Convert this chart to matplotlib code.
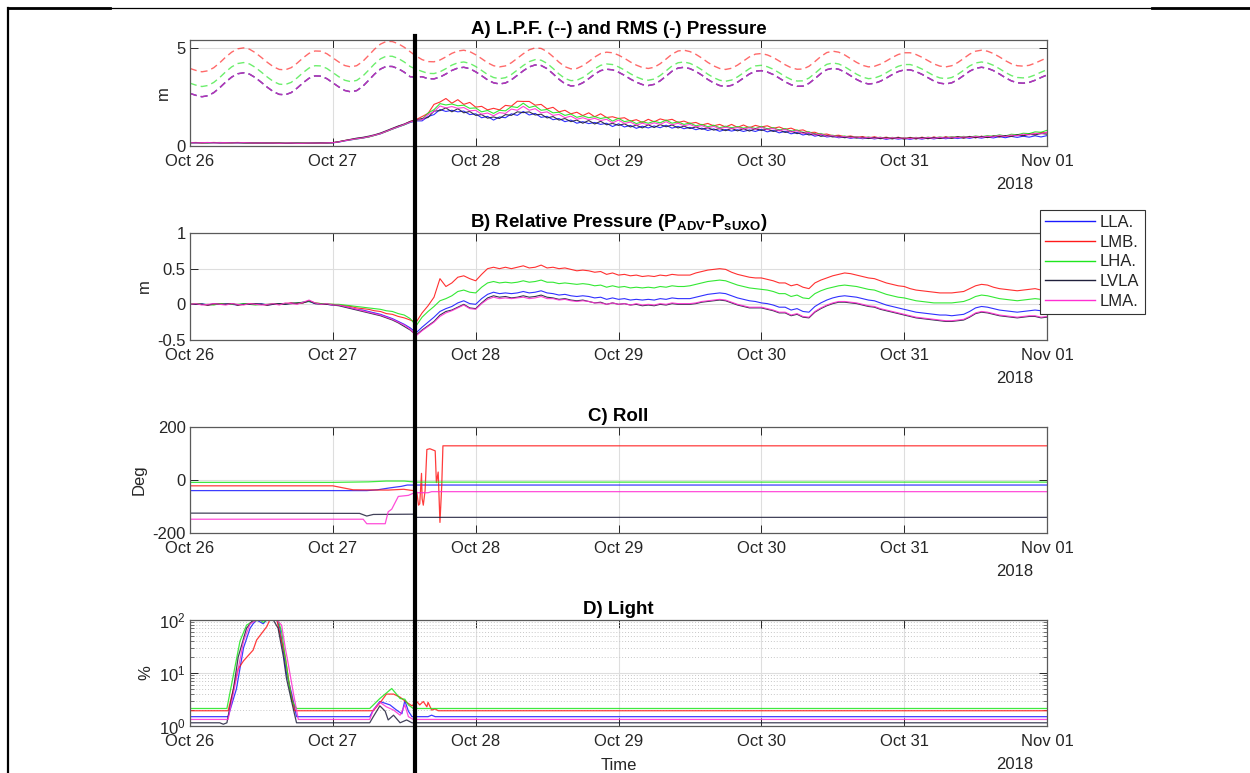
#!/usr/bin/env python3
"""
Four-panel overview of the Oct/Nov 2018 deployment: low-pass and RMS
pressure, relative pressure, roll and light for the five frames.

Output
------
    out.png
"""

from __future__ import annotations

import matplotlib

matplotlib.use("Agg")

import matplotlib.dates as mdates
import matplotlib.pyplot as plt
import pandas as pd
from matplotlib.lines import Line2D
from matplotlib.ticker import LogLocator, NullFormatter


# =============================================================================
# Data
# =============================================================================

START = "2018-10-26 00:00"
END = "2018-11-01 00:00"
EVENT_TIME = "2018-10-27 13:50"   # thick black marker line
YEAR_LABEL = "2018"

SENSORS = ["LLA.", "LMB.", "LHA.", "LVLA", "LMA."]

# Panel A: low-pass filtered pressure (m), hourly from START.
LPF_LMB = [
    3.95, 3.85, 3.78, 3.83, 3.99, 4.24, 4.53, 4.78, 4.95,
    5.00, 4.93, 4.75, 4.51, 4.26, 4.04, 3.90,
    3.88, 3.99, 4.22, 4.49, 4.72, 4.84,
    4.83, 4.70, 4.49, 4.28, 4.10, 4.03,
    4.09, 4.30, 4.61, 4.93, 5.19, 5.33,
    5.32, 5.21, 5.03, 4.80, 4.58, 4.40, 4.30,
    4.29, 4.38, 4.54, 4.72, 4.84,
    4.88, 4.81, 4.65, 4.45, 4.24, 4.09, 4.03,
    4.08, 4.24, 4.47, 4.70, 4.90, 5.00,
    4.97, 4.81, 4.55, 4.27, 4.04, 3.93,
    3.95, 4.09, 4.30, 4.53, 4.71, 4.78,
    4.75, 4.63, 4.47, 4.28, 4.12, 4.00, 3.95,
    4.01, 4.19, 4.43, 4.68, 4.84,
    4.88, 4.81, 4.67, 4.48, 4.26, 4.08, 3.95,
    3.90, 3.96, 4.12, 4.33, 4.54, 4.68,
    4.71, 4.64, 4.51, 4.33, 4.14, 3.99, 3.91,
    3.92, 4.06, 4.30, 4.56, 4.76, 4.83,
    4.78, 4.64, 4.45, 4.26, 4.11, 4.03,
    4.06, 4.17, 4.33, 4.51, 4.66, 4.75,
    4.75, 4.66, 4.52, 4.35, 4.18, 4.07,
    4.03, 4.09, 4.25, 4.46, 4.68, 4.83,
    4.88, 4.83, 4.71, 4.54, 4.35, 4.19, 4.09,
    4.07, 4.11, 4.22, 4.36, 4.49,
]

LPF_LHA = [
    3.20, 3.10, 3.03, 3.08, 3.24, 3.49, 3.78, 4.03, 4.20,
    4.25, 4.18, 4.00, 3.76, 3.51, 3.29, 3.15,
    3.13, 3.24, 3.47, 3.74, 3.97, 4.09,
    4.08, 3.95, 3.74, 3.53, 3.35, 3.28,
    3.34, 3.55, 3.86, 4.18, 4.44, 4.58,
    4.57, 4.46, 4.28, 4.05, 3.91, 3.80, 3.70,
    3.69, 3.78, 3.94, 4.12, 4.24,
    4.28, 4.21, 4.05, 3.85, 3.64, 3.49, 3.43,
    3.48, 3.64, 3.87, 4.10, 4.30, 4.40,
    4.37, 4.21, 3.95, 3.67, 3.44, 3.33,
    3.35, 3.49, 3.70, 3.93, 4.11, 4.18,
    4.15, 4.03, 3.87, 3.68, 3.52, 3.40, 3.35,
    3.41, 3.59, 3.83, 4.08, 4.24,
    4.28, 4.21, 4.07, 3.88, 3.66, 3.48, 3.35,
    3.30, 3.36, 3.52, 3.73, 3.94, 4.08,
    4.11, 4.04, 3.91, 3.73, 3.54, 3.39, 3.31,
    3.32, 3.46, 3.70, 3.96, 4.16, 4.23,
    4.18, 4.04, 3.85, 3.66, 3.51, 3.43,
    3.46, 3.57, 3.73, 3.91, 4.06, 4.15,
    4.15, 4.06, 3.92, 3.75, 3.58, 3.47,
    3.43, 3.49, 3.65, 3.86, 4.08, 4.23,
    4.28, 4.23, 4.11, 3.94, 3.75, 3.59, 3.49,
    3.47, 3.51, 3.62, 3.76, 3.89,
]

# LLA., LVLA and LMA. low-pass traces lie on top of each other.
LPF_LOWER = [
    2.68, 2.58, 2.51, 2.56, 2.72, 2.97, 3.26, 3.51, 3.68,
    3.73, 3.66, 3.48, 3.24, 2.99, 2.77, 2.63,
    2.61, 2.72, 2.95, 3.22, 3.45, 3.57,
    3.56, 3.43, 3.22, 3.01, 2.83, 2.76,
    2.82, 3.03, 3.34, 3.66, 3.92, 4.06,
    4.05, 3.94, 3.76, 3.53, 3.51, 3.53, 3.43,
    3.42, 3.51, 3.67, 3.85, 3.97,
    4.01, 3.94, 3.78, 3.58, 3.37, 3.22, 3.16,
    3.21, 3.37, 3.60, 3.83, 4.03, 4.13,
    4.10, 3.94, 3.68, 3.40, 3.17, 3.06,
    3.08, 3.22, 3.43, 3.66, 3.84, 3.91,
    3.88, 3.76, 3.60, 3.41, 3.25, 3.13, 3.08,
    3.14, 3.32, 3.56, 3.81, 3.97,
    4.01, 3.94, 3.80, 3.61, 3.39, 3.21, 3.08,
    3.03, 3.09, 3.25, 3.46, 3.67, 3.81,
    3.84, 3.77, 3.64, 3.46, 3.27, 3.12, 3.04,
    3.05, 3.19, 3.43, 3.69, 3.89, 3.96,
    3.91, 3.77, 3.58, 3.39, 3.24, 3.16,
    3.19, 3.30, 3.46, 3.64, 3.79, 3.88,
    3.88, 3.79, 3.65, 3.48, 3.31, 3.20,
    3.16, 3.22, 3.38, 3.59, 3.81, 3.96,
    4.01, 3.96, 3.84, 3.67, 3.48, 3.32, 3.22,
    3.20, 3.24, 3.35, 3.49, 3.62,
]

# Panel A: RMS pressure (m), hourly from START.
RMS_LLA = [
    0.16, 0.16, 0.17, 0.16, 0.17, 0.16, 0.16, 0.17, 0.16, 0.16, 0.15, 0.15, 0.15,
    0.15, 0.14, 0.14, 0.14, 0.15, 0.14, 0.14, 0.14, 0.15, 0.15, 0.15, 0.16,
    0.20, 0.26, 0.31, 0.36, 0.40, 0.46, 0.54, 0.62, 0.74, 0.86, 0.97, 1.08, 1.20, 1.28,
    1.28, 1.50, 1.60, 1.86, 1.76, 1.82, 1.74, 1.78, 1.60, 1.64,
    1.44, 1.51, 1.32, 1.48, 1.44, 1.64, 1.56, 1.76, 1.58, 1.66,
    1.46, 1.51, 1.34, 1.40, 1.24, 1.32, 1.16, 1.24, 1.14, 1.20, 1.10, 1.16,
    0.99, 1.13, 0.97, 1.05, 0.90, 1.01, 0.92, 1.02, 0.93, 1.06, 0.91, 1.00,
    0.88, 0.95, 0.83, 0.91, 0.79, 0.87, 0.75, 0.84, 0.76, 0.83, 0.74, 0.82,
    0.74, 0.85, 0.72, 0.80, 0.67, 0.75, 0.62, 0.69, 0.56, 0.63, 0.50, 0.57,
    0.46, 0.50, 0.42, 0.46, 0.39, 0.44, 0.37, 0.42, 0.36, 0.41,
    0.34, 0.40, 0.35, 0.39, 0.34, 0.40, 0.35, 0.41, 0.36, 0.42,
    0.37, 0.43, 0.38, 0.44, 0.39, 0.45, 0.40, 0.46, 0.41, 0.48,
    0.42, 0.49, 0.44, 0.50, 0.45, 0.52, 0.46, 0.53,
]

RMS_LMB = [
    0.17, 0.18, 0.16, 0.17, 0.18, 0.17, 0.16, 0.17, 0.18, 0.17, 0.16, 0.15, 0.16,
    0.15, 0.16, 0.15, 0.14, 0.15, 0.14, 0.15, 0.14, 0.15, 0.15, 0.16, 0.17,
    0.22, 0.28, 0.33, 0.38, 0.42, 0.47, 0.55, 0.64, 0.75, 0.88, 1.00, 1.10, 1.25, 1.35,
    1.50, 1.66, 2.12, 2.24, 2.42, 2.18, 2.36, 2.12, 2.22, 1.98,
    2.02, 1.84, 1.92, 1.84, 2.07, 2.03, 2.28, 2.27, 2.27, 2.08,
    2.12, 1.89, 1.97, 1.74, 1.82, 1.64, 1.72, 1.55, 1.69, 1.49, 1.64, 1.45,
    1.49, 1.40, 1.44, 1.27, 1.34, 1.20, 1.36, 1.23, 1.38, 1.30, 1.36, 1.20,
    1.27, 1.15, 1.20, 1.07, 1.15, 1.03, 1.10, 0.97, 1.10, 0.95, 1.07, 0.93,
    1.05, 0.97, 1.03, 0.90, 0.97, 0.85, 0.91, 0.78, 0.82, 0.68, 0.70, 0.58,
    0.61, 0.52, 0.55, 0.47, 0.51, 0.44, 0.48, 0.41, 0.47, 0.40,
    0.45, 0.38, 0.45, 0.37, 0.44, 0.37, 0.45, 0.38, 0.46, 0.39,
    0.47, 0.40, 0.48, 0.41, 0.49, 0.42, 0.50, 0.43, 0.51, 0.47,
    0.52, 0.49, 0.58, 0.53, 0.63, 0.60, 0.69, 0.67,
]

RMS_LHA = [
    0.16, 0.17, 0.17, 0.16, 0.17, 0.18, 0.17, 0.16, 0.17, 0.16, 0.15, 0.16, 0.15,
    0.16, 0.14, 0.15, 0.15, 0.14, 0.15, 0.15, 0.14, 0.15, 0.16, 0.16, 0.17,
    0.21, 0.27, 0.32, 0.36, 0.41, 0.46, 0.54, 0.63, 0.74, 0.86, 0.98, 1.08, 1.22, 1.30,
    1.36, 1.68, 1.85, 2.16, 2.09, 2.14, 2.05, 2.08, 1.92, 1.94,
    1.74, 1.81, 1.66, 1.82, 1.79, 2.01, 1.96, 2.18, 1.96, 2.04,
    1.82, 1.86, 1.69, 1.72, 1.56, 1.63, 1.46, 1.54, 1.44, 1.50, 1.40, 1.46,
    1.27, 1.41, 1.24, 1.30, 1.14, 1.24, 1.16, 1.26, 1.18, 1.32, 1.16, 1.23,
    1.10, 1.17, 1.03, 1.10, 0.98, 1.06, 0.93, 1.01, 0.93, 0.99, 0.91, 0.97,
    0.89, 1.00, 0.87, 0.94, 0.81, 0.89, 0.75, 0.82, 0.68, 0.73, 0.58, 0.64,
    0.52, 0.55, 0.47, 0.51, 0.43, 0.48, 0.41, 0.46, 0.40, 0.45,
    0.38, 0.44, 0.39, 0.43, 0.38, 0.44, 0.39, 0.45, 0.41, 0.46,
    0.42, 0.48, 0.44, 0.49, 0.45, 0.51, 0.47, 0.53, 0.49, 0.57,
    0.51, 0.60, 0.57, 0.65, 0.63, 0.72, 0.70, 0.80,
]

RMS_LVLA = [
    0.17, 0.17, 0.16, 0.17, 0.17, 0.16, 0.17, 0.16, 0.17, 0.16, 0.16, 0.15, 0.16,
    0.15, 0.15, 0.15, 0.14, 0.14, 0.15, 0.14, 0.15, 0.15, 0.16, 0.16, 0.17,
    0.22, 0.28, 0.34, 0.40, 0.44, 0.50, 0.57, 0.66, 0.78, 0.90, 1.02, 1.12, 1.25, 1.33,
    1.40, 1.45, 1.78, 1.80, 1.94, 1.74, 1.90, 1.69, 1.76, 1.56,
    1.60, 1.42, 1.48, 1.40, 1.60, 1.56, 1.74, 1.70, 1.74, 1.58,
    1.62, 1.43, 1.50, 1.32, 1.40, 1.24, 1.32, 1.16, 1.30, 1.12, 1.26, 1.08,
    1.15, 1.05, 1.13, 0.97, 1.06, 0.92, 1.08, 0.94, 1.09, 0.98, 1.07, 0.92,
    1.01, 0.89, 0.97, 0.85, 0.93, 0.81, 0.89, 0.78, 0.90, 0.77, 0.88, 0.76,
    0.88, 0.79, 0.86, 0.74, 0.81, 0.69, 0.76, 0.63, 0.70, 0.56, 0.62, 0.49,
    0.54, 0.46, 0.50, 0.42, 0.47, 0.40, 0.45, 0.38, 0.44, 0.37,
    0.42, 0.36, 0.43, 0.35, 0.42, 0.36, 0.43, 0.37, 0.44, 0.38,
    0.45, 0.39, 0.47, 0.40, 0.48, 0.42, 0.49, 0.43, 0.51, 0.47,
    0.53, 0.49, 0.57, 0.52, 0.60, 0.56, 0.64, 0.60,
]

RMS_LMA = [
    0.17, 0.16, 0.17, 0.18, 0.16, 0.17, 0.17, 0.16, 0.16, 0.17, 0.16, 0.15, 0.16,
    0.15, 0.15, 0.14, 0.15, 0.15, 0.14, 0.14, 0.15, 0.15, 0.15, 0.16, 0.17,
    0.21, 0.27, 0.32, 0.37, 0.41, 0.47, 0.55, 0.63, 0.75, 0.87, 0.98, 1.10, 1.22, 1.32,
    1.34, 1.60, 1.75, 2.04, 1.94, 2.01, 1.92, 1.96, 1.79, 1.82,
    1.62, 1.68, 1.54, 1.70, 1.66, 1.88, 1.82, 2.02, 1.82, 1.90,
    1.69, 1.74, 1.56, 1.61, 1.44, 1.52, 1.36, 1.44, 1.34, 1.41, 1.30, 1.36,
    1.18, 1.32, 1.15, 1.22, 1.06, 1.16, 1.08, 1.18, 1.10, 1.24, 1.08, 1.16,
    1.03, 1.10, 0.97, 1.04, 0.92, 1.00, 0.88, 0.96, 0.88, 0.94, 0.86, 0.93,
    0.85, 0.96, 0.83, 0.90, 0.77, 0.85, 0.71, 0.78, 0.64, 0.70, 0.55, 0.61,
    0.50, 0.53, 0.45, 0.49, 0.42, 0.47, 0.40, 0.45, 0.39, 0.44,
    0.37, 0.43, 0.38, 0.42, 0.37, 0.43, 0.38, 0.44, 0.39, 0.45,
    0.40, 0.46, 0.42, 0.47, 0.43, 0.49, 0.44, 0.50, 0.46, 0.54,
    0.48, 0.56, 0.52, 0.60, 0.57, 0.65, 0.62, 0.71,
]

# Panel B: relative pressure P_ADV - P_sUXO (m), hourly from START.
REL_LLA = [
    0.00, 0.00, 0.01, -0.01, 0.00, 0.00, 0.01, 0.00, -0.01, 0.01, 0.00, 0.00, 0.01,
    -0.01, 0.00, 0.01, 0.00, 0.02, 0.01, 0.03, 0.04, 0.01, 0.01, 0.00, -0.01,
    -0.01, -0.03, -0.05, -0.07, -0.08, -0.10, -0.12, -0.14, -0.17, -0.20, -0.24, -0.28, -0.33, -0.40,
    -0.32, -0.25, -0.18, -0.10, -0.06, -0.03, 0.02, 0.05, 0.01, 0.00,
    0.08, 0.14, 0.17, 0.15, 0.16, 0.15, 0.16, 0.18, 0.16, 0.17,
    0.19, 0.16, 0.15, 0.13, 0.14, 0.12, 0.11, 0.12, 0.11, 0.09,
    0.10, 0.07, 0.09, 0.07, 0.08, 0.06, 0.07, 0.06, 0.07, 0.06,
    0.08, 0.07, 0.09, 0.08, 0.08, 0.08, 0.10, 0.12, 0.14, 0.15,
    0.16, 0.15, 0.12, 0.09, 0.07, 0.05, 0.04, 0.02, 0.01, -0.01,
    -0.04, -0.04, -0.08, -0.06, -0.10, -0.11, -0.03, 0.02, 0.06, 0.09,
    0.11, 0.12, 0.11, 0.10, 0.08, 0.06, 0.05, 0.02, -0.01, -0.03,
    -0.05, -0.07, -0.09, -0.11, -0.12, -0.13, -0.14, -0.15, -0.15, -0.16,
    -0.15, -0.14, -0.10, -0.05, -0.03, -0.04, -0.06, -0.08, -0.09, -0.10,
    -0.11, -0.10, -0.09, -0.08, -0.09, -0.08,
]

REL_LMB = [
    0.00, 0.01, 0.00, -0.01, 0.00, 0.01, 0.00, 0.01, -0.01, 0.00, 0.01, 0.00, 0.00,
    -0.01, 0.01, 0.00, 0.01, 0.02, 0.01, 0.02, 0.05, 0.02, 0.01, 0.00, 0.00,
    -0.01, -0.02, -0.03, -0.05, -0.06, -0.07, -0.09, -0.10, -0.13, -0.14, -0.17, -0.19, -0.22, -0.25,
    -0.12, -0.02, 0.10, 0.36, 0.25, 0.30, 0.38, 0.40, 0.36, 0.33,
    0.42, 0.50, 0.52, 0.50, 0.52, 0.50, 0.52, 0.54, 0.51, 0.52,
    0.55, 0.51, 0.52, 0.50, 0.51, 0.49, 0.47, 0.48, 0.47, 0.45,
    0.46, 0.42, 0.44, 0.41, 0.42, 0.40, 0.41, 0.39, 0.40, 0.39,
    0.41, 0.40, 0.42, 0.41, 0.41, 0.41, 0.44, 0.46, 0.48, 0.49,
    0.50, 0.49, 0.45, 0.42, 0.40, 0.38, 0.37, 0.37, 0.35, 0.33,
    0.30, 0.30, 0.26, 0.28, 0.24, 0.22, 0.30, 0.34, 0.37, 0.40,
    0.42, 0.44, 0.43, 0.41, 0.39, 0.37, 0.36, 0.33, 0.30, 0.28,
    0.26, 0.25, 0.22, 0.20, 0.19, 0.18, 0.17, 0.16, 0.16, 0.16,
    0.17, 0.18, 0.22, 0.26, 0.28, 0.27, 0.24, 0.22, 0.21, 0.20,
    0.19, 0.20, 0.21, 0.22, 0.20, 0.22,
]

REL_LHA = [
    0.00, 0.01, 0.00, 0.00, -0.01, 0.01, 0.00, 0.00, 0.00, 0.01, 0.00, -0.01, 0.00,
    0.00, 0.01, 0.00, 0.01, 0.01, 0.02, 0.03, 0.04, 0.02, 0.01, 0.01, 0.00,
    0.00, -0.01, -0.02, -0.03, -0.04, -0.05, -0.06, -0.07, -0.09, -0.10, -0.13, -0.15, -0.20, -0.30,
    -0.18, -0.10, -0.03, 0.05, 0.08, 0.12, 0.18, 0.20, 0.17, 0.16,
    0.24, 0.30, 0.32, 0.30, 0.31, 0.30, 0.31, 0.33, 0.31, 0.32,
    0.34, 0.31, 0.31, 0.29, 0.30, 0.29, 0.28, 0.29, 0.28, 0.26,
    0.27, 0.24, 0.26, 0.24, 0.25, 0.23, 0.24, 0.23, 0.24, 0.23,
    0.25, 0.24, 0.26, 0.25, 0.25, 0.26, 0.28, 0.30, 0.32, 0.33,
    0.34, 0.33, 0.30, 0.27, 0.25, 0.23, 0.22, 0.21, 0.20, 0.18,
    0.15, 0.15, 0.11, 0.13, 0.09, 0.08, 0.15, 0.19, 0.22, 0.24,
    0.26, 0.27, 0.26, 0.25, 0.23, 0.21, 0.20, 0.17, 0.14, 0.12,
    0.10, 0.09, 0.07, 0.05, 0.04, 0.03, 0.02, 0.02, 0.02, 0.02,
    0.03, 0.04, 0.07, 0.11, 0.13, 0.12, 0.10, 0.08, 0.07, 0.06,
    0.05, 0.06, 0.07, 0.08, 0.07, 0.08,
]

REL_LVLA = [
    0.00, 0.00, 0.00, -0.01, 0.01, 0.00, 0.00, 0.01, -0.01, 0.00, 0.00, 0.01, 0.00,
    -0.01, 0.00, 0.01, 0.00, 0.01, 0.02, 0.02, 0.05, 0.01, 0.00, 0.00, -0.01,
    -0.02, -0.04, -0.06, -0.08, -0.10, -0.12, -0.14, -0.16, -0.19, -0.22, -0.26, -0.31, -0.36, -0.43,
    -0.36, -0.30, -0.24, -0.15, -0.10, -0.08, -0.04, 0.00, -0.05, -0.06,
    0.02, 0.09, 0.12, 0.10, 0.11, 0.09, 0.10, 0.12, 0.10, 0.11,
    0.13, 0.10, 0.09, 0.07, 0.08, 0.06, 0.05, 0.06, 0.04, 0.02,
    0.03, 0.00, 0.02, 0.00, 0.01, -0.01, 0.00, -0.02, -0.01, -0.02,
    0.00, -0.01, 0.01, 0.00, 0.00, 0.00, 0.01, 0.03, 0.04, 0.05,
    0.06, 0.05, 0.02, -0.01, -0.03, -0.05, -0.05, -0.05, -0.07, -0.09,
    -0.12, -0.12, -0.16, -0.14, -0.18, -0.19, -0.11, -0.06, -0.02, 0.01,
    0.03, 0.03, 0.02, 0.01, -0.01, -0.03, -0.04, -0.07, -0.09, -0.11,
    -0.13, -0.15, -0.17, -0.19, -0.20, -0.21, -0.22, -0.23, -0.24, -0.24,
    -0.23, -0.22, -0.18, -0.13, -0.11, -0.12, -0.14, -0.16, -0.17, -0.18,
    -0.19, -0.18, -0.17, -0.17, -0.19, -0.18,
]

REL_LMA = [
    0.00, 0.01, -0.01, 0.00, 0.01, 0.00, -0.01, 0.01, 0.00, -0.01, 0.01, 0.00, -0.01,
    0.00, 0.01, -0.01, 0.02, 0.01, 0.00, 0.03, 0.06, 0.02, 0.00, 0.01, -0.01,
    -0.01, -0.03, -0.05, -0.07, -0.09, -0.11, -0.13, -0.15, -0.18, -0.21, -0.25, -0.29, -0.35, -0.44,
    -0.37, -0.31, -0.25, -0.17, -0.12, -0.09, -0.05, -0.01, -0.06, -0.07,
    0.01, 0.07, 0.10, 0.08, 0.09, 0.08, 0.09, 0.10, 0.08, 0.09,
    0.11, 0.08, 0.08, 0.06, 0.07, 0.05, 0.04, 0.05, 0.04, 0.02,
    0.02, 0.00, 0.02, 0.00, 0.01, -0.01, 0.01, -0.01, 0.00, -0.01,
    0.01, 0.00, 0.02, 0.01, 0.01, 0.01, 0.02, 0.04, 0.05, 0.06,
    0.07, 0.06, 0.03, 0.00, -0.02, -0.04, -0.04, -0.04, -0.06, -0.08,
    -0.11, -0.11, -0.15, -0.13, -0.17, -0.18, -0.10, -0.05, -0.01, 0.02,
    0.04, 0.04, 0.03, 0.02, 0.00, -0.02, -0.03, -0.06, -0.08, -0.10,
    -0.12, -0.14, -0.16, -0.18, -0.19, -0.20, -0.21, -0.22, -0.23, -0.23,
    -0.22, -0.21, -0.17, -0.12, -0.10, -0.11, -0.13, -0.15, -0.16, -0.17,
    -0.18, -0.17, -0.16, -0.16, -0.18, -0.17,
]

# Panel C: roll (deg) at change points, hours after START.
ROLL_LLA_HOURS = [0, 29.7, 31.5, 33.5, 35.5, 36.5, 144]
ROLL_LLA = [-40, -40, -37, -30, -24, -19, -19]

ROLL_LMB_HOURS = [0, 24.0, 25.8, 27.4, 33.3, 35.9, 37.5, 38.1, 38.4, 38.6, 38.9, 39.0,
                  39.2, 39.5, 39.8, 40.3, 41.2, 41.4, 41.7, 42.0, 42.3, 42.5, 144]
ROLL_LMB = [-22, -22, -30, -37, -38, -35, -40, -45, -95, -90, 25, -70,
            -95, -40, 115, 118, 110, -10, 30, -160, -20, 129, 129]

ROLL_LHA_HOURS = [0, 24.0, 30.0, 33.0, 36.0, 38.0, 144]
ROLL_LHA = [-9, -9, -7, -4, -4, -8, -8]

ROLL_LVLA_HOURS = [0, 28.5, 29.7, 30.8, 37.5, 38.0, 144]
ROLL_LVLA = [-125, -126, -136, -130, -129, -141, -141]

ROLL_LMA_HOURS = [0, 29.1, 29.7, 32.8, 33.3, 33.9, 35.0, 36.7, 37.5, 38.1, 40.0, 40.6, 144]
ROLL_LMA = [-148, -148, -165, -165, -120, -110, -62, -58, -50, -48, -48, -44, -44]

# Panel D: light (%) at change points, hours after START.
LIGHT_LLA_HOURS = [0, 6.4, 7.8, 9.0, 10.1, 10.6, 11.2, 12.3, 12.9, 14.6, 15.1, 15.7, 16.2,
                   17.1, 17.9, 30.2, 30.8, 31.9, 33.6, 34.7, 35.6, 36.1, 36.7, 37.3,
                   40.0, 40.6, 41.2, 144]
LIGHT_LLA = [1.5, 1.5, 5, 30, 70, 85, 100, 85, 100, 100, 70, 25, 10,
             4, 1.5, 1.5, 2.0, 2.9, 2.5, 2.0, 1.7, 3.0, 1.9, 1.5,
             1.5, 1.6, 1.5, 1.5]

LIGHT_LMB_HOURS = [0, 6.4, 7.3, 8.1, 9.0, 10.6, 11.2, 12.9, 13.4, 14.6, 15.1, 16.0, 16.8,
                   17.6, 30.8, 32.2, 33.0, 34.2, 35.3, 36.4, 37.3, 38.1, 38.6, 39.2,
                   39.8, 40.0, 40.6, 41.2, 41.7, 144]
LIGHT_LMB = [1.94, 1.94, 5, 12, 17, 27, 42, 75, 100, 100, 56, 20, 5,
             1.94, 1.94, 3.0, 4.0, 4.0, 3.5, 2.8, 2.4, 2.9, 2.5, 2.9,
             2.3, 2.8, 2.0, 2.1, 1.94, 1.94]

LIGHT_LHA_HOURS = [0, 6.2, 8.4, 9.5, 10.6, 11.8, 12.3, 12.9, 14.0, 14.8, 15.4, 16.0,
                   16.5, 17.1, 17.9, 30.2, 31.9, 33.9, 35.3, 36.1, 36.7, 37.5, 144]
LIGHT_LHA = [2.14, 2.14, 40, 80, 95, 100, 90, 100, 100, 100, 60, 20,
             8, 3, 2.14, 2.14, 3.3, 5.1, 3.3, 3.2, 2.5, 2.14, 2.14]

LIGHT_LVLA_HOURS = [0, 5.0, 5.6, 6.2, 7.3, 8.1, 9.5, 10.6, 14.0, 14.8, 15.7, 16.2,
                    17.4, 17.9, 30.2, 30.8, 31.9, 32.8, 33.3, 34.2, 35.3, 36.4, 37.3, 144]
LIGHT_LVLA = [1.15, 1.15, 1.08, 1.15, 5, 20, 70, 100, 100, 70, 20, 8,
              2, 1.15, 1.15, 1.5, 2.4, 1.9, 1.3, 1.6, 1.15, 1.3, 1.15, 1.15]

LIGHT_LMA_HOURS = [0, 6.4, 7.8, 9.0, 10.1, 11.2, 14.6, 15.4, 16.0, 16.5, 17.4, 18.2,
                   30.2, 30.8, 31.9, 33.0, 34.2, 35.3, 36.1, 36.7, 37.5, 144]
LIGHT_LMA = [1.33, 1.33, 8, 40, 85, 100, 100, 80, 30, 15, 4, 1.33,
             1.33, 2.0, 2.8, 2.3, 2.0, 1.6, 2.5, 1.5, 1.33, 1.33]


# =============================================================================
# Style
# =============================================================================

COLORS = {
    "LLA.": "#1a1aff",
    "LMB.": "#ff1a1a",
    "LHA.": "#1ee61e",
    "LVLA": "#20203c",
    "LMA.": "#ff2ed2",
}

TEXT_COLOR = "#262626"
SPINE_COLOR = "#5a5a5a"
GRID_COLOR = "#dedede"

FIG_W_PX, FIG_H_PX, DPI = 1250, 773, 100

# Axes boxes in pixels: left, top, right, bottom.
PANEL_BOXES = [
    (190, 40, 1047, 146),
    (190, 233, 1047, 340),
    (190, 427, 1047, 533),
    (190, 620, 1047, 726),
]

plt.rcParams["font.family"] = ["Liberation Sans", "DejaVu Sans"]
plt.rcParams["mathtext.fontset"] = "custom"
plt.rcParams["mathtext.rm"] = "Liberation Sans"
plt.rcParams["mathtext.bf"] = "Liberation Sans:bold"
plt.rcParams["axes.unicode_minus"] = False


# =============================================================================
# Helpers
# =============================================================================

def hourly_index() -> pd.DatetimeIndex:
    return pd.date_range(START, END, freq="h")


def hours_to_times(hours: list[float]) -> pd.DatetimeIndex:
    return pd.Timestamp(START) + pd.to_timedelta(hours, unit="h")


def add_axes_px(fig, box):
    left, top, right, bottom = box
    return fig.add_axes([
        left / FIG_W_PX,
        1.0 - bottom / FIG_H_PX,
        (right - left) / FIG_W_PX,
        (bottom - top) / FIG_H_PX,
    ])


def style_axis(ax, title: str) -> None:
    ax.set_xlim(pd.Timestamp(START), pd.Timestamp(END))
    ax.xaxis.set_major_locator(mdates.DayLocator())
    ax.xaxis.set_major_formatter(mdates.DateFormatter("%b %d"))

    ax.tick_params(
        which="major", direction="in", length=5.5, width=0.7,
        top=True, right=True, colors=TEXT_COLOR, labelsize=12, pad=3,
    )
    ax.tick_params(axis="x", which="major", pad=6)
    for spine in ax.spines.values():
        spine.set_color(SPINE_COLOR)
        spine.set_linewidth(0.9)

    ax.grid(True, which="major", color=GRID_COLOR, linewidth=0.8)
    ax.set_axisbelow(True)
    ax.set_title(title, fontsize=13.5, fontweight="bold", pad=4)

    # MATLAB-style year stamp under the last date tick.
    ax.annotate(
        YEAR_LABEL, xy=(0.9627, 0.0), xycoords="axes fraction",
        xytext=(0, -28), textcoords="offset points",
        ha="center", va="center", fontsize=12, color=TEXT_COLOR,
    )


# =============================================================================
# Plotting
# =============================================================================

def main() -> None:
    times = hourly_index()
    for name, series in [
        ("LPF_LMB", LPF_LMB), ("LPF_LHA", LPF_LHA), ("LPF_LOWER", LPF_LOWER),
        ("RMS_LLA", RMS_LLA), ("RMS_LMB", RMS_LMB), ("RMS_LHA", RMS_LHA),
        ("RMS_LVLA", RMS_LVLA), ("RMS_LMA", RMS_LMA),
        ("REL_LLA", REL_LLA), ("REL_LMB", REL_LMB), ("REL_LHA", REL_LHA),
        ("REL_LVLA", REL_LVLA), ("REL_LMA", REL_LMA),
    ]:
        if len(series) != len(times):
            raise ValueError(f"{name} has {len(series)} values, expected {len(times)}")

    fig = plt.figure(figsize=(FIG_W_PX / DPI, FIG_H_PX / DPI), dpi=DPI)
    ax_a, ax_b, ax_c, ax_d = [add_axes_px(fig, box) for box in PANEL_BOXES]

    # ---- A) low-pass (dashed) and RMS (solid) pressure --------------------
    lpf = {
        "LLA.": LPF_LOWER, "LMB.": LPF_LMB, "LHA.": LPF_LHA,
        "LVLA": LPF_LOWER, "LMA.": LPF_LOWER,
    }
    rms = {
        "LLA.": RMS_LLA, "LMB.": RMS_LMB, "LHA.": RMS_LHA,
        "LVLA": RMS_LVLA, "LMA.": RMS_LMA,
    }
    for name in SENSORS:
        ax_a.plot(times, lpf[name], color=COLORS[name], linewidth=1.0,
                  dashes=(5, 3), alpha=0.65)
    for name in SENSORS:
        ax_a.plot(times, rms[name], color=COLORS[name], linewidth=0.8, alpha=0.9)

    style_axis(ax_a, "A) L.P.F. (--) and RMS (-) Pressure")
    ax_a.set_ylim(0, 5.4)
    ax_a.set_yticks([0, 5])
    ax_a.set_ylabel("m", fontsize=12, color=TEXT_COLOR)

    # ---- B) relative pressure ---------------------------------------------
    rel = {
        "LLA.": REL_LLA, "LMB.": REL_LMB, "LHA.": REL_LHA,
        "LVLA": REL_LVLA, "LMA.": REL_LMA,
    }
    for name in SENSORS:
        ax_b.plot(times, rel[name], color=COLORS[name], linewidth=0.8, alpha=0.9)

    style_axis(ax_b, r"B) Relative Pressure (P$_\mathbf{ADV}$-P$_\mathbf{sUXO}$)")
    ax_b.set_ylim(-0.5, 1.0)
    ax_b.set_yticks([-0.5, 0, 0.5, 1], labels=["-0.5", "0", "0.5", "1"])
    ax_b.set_ylabel("m", fontsize=12, color=TEXT_COLOR)

    # ---- C) roll -----------------------------------------------------------
    roll = {
        "LLA.": (ROLL_LLA_HOURS, ROLL_LLA),
        "LMB.": (ROLL_LMB_HOURS, ROLL_LMB),
        "LHA.": (ROLL_LHA_HOURS, ROLL_LHA),
        "LVLA": (ROLL_LVLA_HOURS, ROLL_LVLA),
        "LMA.": (ROLL_LMA_HOURS, ROLL_LMA),
    }
    for name in SENSORS:
        hours, values = roll[name]
        ax_c.plot(hours_to_times(hours), values, color=COLORS[name],
                  linewidth=0.9, alpha=0.85)

    style_axis(ax_c, "C) Roll")
    ax_c.set_ylim(-200, 200)
    ax_c.set_yticks([-200, 0, 200], labels=["-200", "0", "200"])
    ax_c.set_ylabel("Deg", fontsize=12, color=TEXT_COLOR)

    # ---- D) light (log scale) ----------------------------------------------
    light = {
        "LLA.": (LIGHT_LLA_HOURS, LIGHT_LLA),
        "LMB.": (LIGHT_LMB_HOURS, LIGHT_LMB),
        "LHA.": (LIGHT_LHA_HOURS, LIGHT_LHA),
        "LVLA": (LIGHT_LVLA_HOURS, LIGHT_LVLA),
        "LMA.": (LIGHT_LMA_HOURS, LIGHT_LMA),
    }
    for name in SENSORS:
        hours, values = light[name]
        ax_d.plot(hours_to_times(hours), values, color=COLORS[name],
                  linewidth=0.9, alpha=0.85)

    style_axis(ax_d, "D) Light")
    ax_d.set_yscale("log")
    ax_d.set_ylim(1, 100)
    ax_d.yaxis.set_major_locator(LogLocator(base=10))
    ax_d.yaxis.set_minor_locator(LogLocator(base=10, subs=range(2, 10)))
    ax_d.yaxis.set_minor_formatter(NullFormatter())
    ax_d.tick_params(which="minor", direction="in", length=3, width=0.6,
                     left=True, right=True, colors=SPINE_COLOR)
    ax_d.grid(True, which="minor", axis="y", color="#c8c8c8",
              linestyle=(0, (1, 2)), linewidth=0.7)
    ax_d.set_ylabel("%", fontsize=12, color=TEXT_COLOR)
    ax_d.set_xlabel("Time", fontsize=12, color=TEXT_COLOR)
    ax_d.xaxis.set_label_coords(0.5, -0.30)

    # ---- legend ------------------------------------------------------------
    handles = [Line2D([], [], color=COLORS[n], linewidth=1.0) for n in SENSORS]
    legend = fig.legend(
        handles, SENSORS, loc="upper left",
        bbox_to_anchor=(1040 / FIG_W_PX, 1.0 - 210 / FIG_H_PX),
        frameon=True, fancybox=False, edgecolor="#333333", framealpha=1.0,
        fontsize=12, handlelength=3.0, handletextpad=0.3,
        labelspacing=0.28, borderpad=0.3, borderaxespad=0.0,
    )
    legend.get_frame().set_linewidth(0.8)
    for text in legend.get_texts():
        text.set_color(TEXT_COLOR)

    # ---- event marker through all panels -----------------------------------
    event_x = mdates.date2num(pd.Timestamp(EVENT_TIME))
    x_disp = ax_a.transData.transform((event_x, 1.0))[0]
    x_fig = fig.transFigure.inverted().transform((x_disp, 0.0))[0]
    fig.add_artist(Line2D([x_fig, x_fig], [0.0, 1.0 - 36 / FIG_H_PX],
                          transform=fig.transFigure, color="black",
                          linewidth=3.0, zorder=20))

    # ---- page frame from the source document --------------------------------
    top = 1.0 - 8 / FIG_H_PX
    left = 8 / FIG_W_PX
    fig.add_artist(Line2D([left, 1.0], [top, top], transform=fig.transFigure,
                          color="black", linewidth=0.9))
    fig.add_artist(Line2D([left, 110 / FIG_W_PX], [top, top],
                          transform=fig.transFigure, color="black", linewidth=2.0))
    fig.add_artist(Line2D([1152 / FIG_W_PX, 1.0], [top, top],
                          transform=fig.transFigure, color="black", linewidth=2.0))
    fig.add_artist(Line2D([left, left], [0.0, top], transform=fig.transFigure,
                          color="black", linewidth=1.6))

    fig.savefig("out.png", dpi=DPI)
    plt.close(fig)


if __name__ == "__main__":
    main()
